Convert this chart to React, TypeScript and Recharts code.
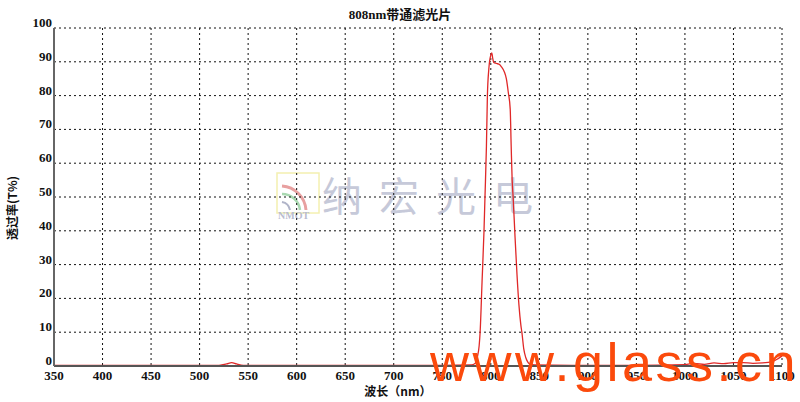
import React from 'react'
import {
  LineChart,
  Line,
  XAxis,
  YAxis,
  CartesianGrid,
} from 'recharts'

// 波长 (nm) 和透过率 (%)
const wavelength = [
  350, 400, 450, 500, 520, 528, 533, 538, 545, 600, 650, 700, 750, 780, 784,
  786, 788, 789, 791, 793, 794, 795.5, 796.5, 798, 800, 801, 802, 803, 806, 809,
  811, 814, 816, 818, 820, 821, 822, 823, 825, 827, 829, 831, 832, 834, 836,
  838, 840, 845, 900, 950, 1000, 1010, 1020, 1030, 1040, 1050, 1060, 1070, 1080, 1090,
  1095, 1100,
]
const transmittance = [
  0.2, 0.2, 0.2, 0.2, 0.2, 0.6, 1.0, 0.6, 0.2, 0.2, 0.2, 0.2, 0.2, 0.3, 0.8,
  2.5, 6, 10, 25, 40, 50, 65, 80, 88, 92, 92.6, 91, 89.8, 89.5, 89.2,
  88.5, 87, 85, 81, 76, 65, 55, 50, 38, 27, 18, 12, 10, 5, 2.5,
  1.2, 0.6, 0.3, 0.2, 0.2, 0.4, 0.8, 0.5, 0.9, 0.7, 1.0, 1.0, 0.8, 0.9, 1.3,
  2.0, 3.0,
]
const xTicks = [350, 400, 450, 500, 550, 600, 650, 700, 750, 800, 850, 900, 950, 1000, 1050, 1100]
const yTicks = [0, 10, 20, 30, 40, 50, 60, 70, 80, 90, 100]

const data = wavelength.map((w, i) => ({ w, t: transmittance[i] }))

const TICK_FONT = '"Liberation Serif", "Times New Roman", serif'
const CJK_FONT = '"Noto Sans CJK SC", sans-serif'

const XTick = ({ x, y, payload }: any) => (
  <text x={x} y={y + 12} textAnchor="middle" fontFamily={TICK_FONT} fontWeight="bold" fontSize={13} fill="#111">
    {payload.value}
  </text>
)

const YTick = ({ x, y, payload }: any) => (
  <text x={x} y={y - 1} textAnchor="end" fontFamily={TICK_FONT} fontWeight="bold" fontSize={13} fill="#111">
    {payload.value}
  </text>
)

export default function App() {
  return (
    <div style={{ position: 'absolute', left: 0, top: 0, width: 800, height: 402, background: '#fff', overflow: 'hidden' }}>
      {/* 水印：纳宏光电 */}
      <div style={{ position: 'absolute', left: 276, top: 172 }}>
        <svg width={46} height={48}>
          <rect x={1} y={1} width={42} height={40} fill="none" stroke="#f4f0b0" strokeWidth={1.5} />
          <path d="M6 14 A26 26 0 0 1 30 38" fill="none" stroke="#e8a0a0" strokeWidth={3} />
          <path d="M6 22 A18 18 0 0 1 24 38" fill="none" stroke="#a8d8b0" strokeWidth={2.5} />
          <path d="M6 30 A10 10 0 0 1 14 38" fill="none" stroke="#b0b4c8" strokeWidth={2} />
        </svg>
        <div style={{ position: 'absolute', left: 2, top: 38, fontFamily: TICK_FONT, fontWeight: 'bold', fontSize: 10, color: '#b8bccf' }}>
          NMOT
        </div>
      </div>
      <div style={{ position: 'absolute', left: 322, top: 168, fontFamily: CJK_FONT, fontSize: 40, letterSpacing: 17, color: '#c6c9d9', lineHeight: '52px' }}>
        纳宏光电
      </div>

      <div style={{ position: 'absolute', left: 0, top: 0 }}>
        <LineChart width={800} height={402} data={data} margin={{ top: 28, right: 18, left: 0, bottom: 16 }}>
          <CartesianGrid stroke="#111" strokeDasharray="2 3" strokeWidth={1} />
          <XAxis
            dataKey="w"
            type="number"
            domain={[350, 1100]}
            ticks={xTicks}
            interval={0}
            height={20}
            tickLine={false}
            tickSize={0}
            axisLine={{ stroke: '#555', strokeWidth: 2 }}
            tick={<XTick />}
          />
          <XAxis
            xAxisId="top"
            dataKey="w"
            type="number"
            orientation="top"
            domain={[350, 1100]}
            ticks={xTicks}
            height={0}
            tick={false}
            tickLine={false}
            axisLine={{ stroke: '#777', strokeWidth: 2 }}
          />
          <YAxis
            type="number"
            domain={[0, 100]}
            ticks={yTicks}
            interval={0}
            width={54}
            tickLine={false}
            tickSize={0}
            axisLine={{ stroke: '#666', strokeWidth: 2 }}
            tick={<YTick />}
          />
          <YAxis
            yAxisId="right"
            orientation="right"
            type="number"
            domain={[0, 100]}
            width={0}
            tick={false}
            tickLine={false}
            axisLine={{ stroke: '#888', strokeWidth: 2 }}
          />
          <Line
            type="monotone"
            dataKey="t"
            stroke="#e02828"
            strokeWidth={1.3}
            dot={false}
            isAnimationActive={false}
          />
          <text x={400} y={19} textAnchor="middle" fontWeight="bold" fontSize={13} fill="#111">
            <tspan fontFamily={TICK_FONT}>808nm</tspan>
            <tspan fontFamily={CJK_FONT}>带通滤光片</tspan>
          </text>
          <text
            x={0}
            y={0}
            transform="translate(17 208) rotate(-90)"
            textAnchor="middle"
            fontFamily={CJK_FONT}
            fontWeight="bold"
            fontSize={12}
            fill="#111"
          >
            透过率(T%)
          </text>
          <text x={398} y={396} textAnchor="middle" fontFamily={CJK_FONT} fontWeight="bold" fontSize={12} fill="#111">
            波长（nm）
          </text>
        </LineChart>
      </div>

      {/* 水印：www.glass.cn */}
      <div
        style={{
          position: 'absolute',
          left: 430,
          top: 330,
          fontFamily: '"Liberation Sans", Arial, sans-serif',
          fontSize: 54,
          letterSpacing: 3.5,
          color: '#fb4a0c',
          lineHeight: '64px',
          whiteSpace: 'nowrap',
        }}
      >
        www.glass.cn
      </div>
    </div>
  )
}
